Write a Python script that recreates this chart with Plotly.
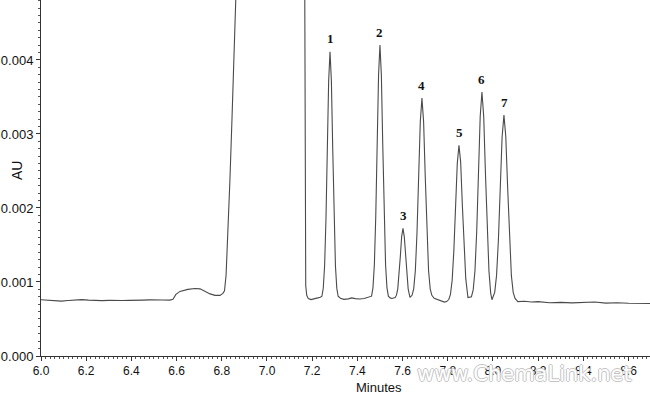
import plotly.graph_objects as go

# ---- chromatogram trace (minutes, AU) ----
time_min = [
    6.000, 6.030, 6.060, 6.090, 6.120, 6.150, 6.180, 6.210, 6.240, 6.270,
    6.300, 6.330, 6.360, 6.390, 6.420, 6.450, 6.480, 6.510, 6.540, 6.570,
    6.584, 6.597, 6.615, 6.650, 6.681, 6.704, 6.726, 6.748, 6.770, 6.792,
    6.805, 6.812, 6.819, 6.827, 6.836, 6.845, 6.854, 6.863, 6.869, 7.020,
    7.1665, 7.1675, 7.1680, 7.1715, 7.1760, 7.1830, 7.1950, 7.2100, 7.2250, 7.2360,
    # peak 1
    7.2431, 7.2491, 7.2551, 7.2611, 7.2671, 7.2730, 7.2790, 7.2850, 7.2910, 7.2969,
    7.3029, 7.3089, 7.3149,
    7.3250, 7.3400, 7.3600, 7.3750, 7.3900, 7.4100, 7.4300, 7.4500,
    # peak 2
    7.4628, 7.4690, 7.4752, 7.4814, 7.4876, 7.4938, 7.5000, 7.5062, 7.5124, 7.5186,
    7.5248, 7.5310, 7.5372,
    7.5450, 7.5530,
    # peak 3
    7.5673, 7.5730, 7.5788, 7.5845, 7.5903, 7.5960, 7.6018, 7.6076, 7.6133, 7.6191,
    7.6248, 7.6327,
    # peak 4
    7.6420, 7.6493, 7.6566, 7.6639, 7.6712, 7.6785, 7.6858, 7.6931, 7.7004, 7.7077,
    7.7150, 7.7223, 7.7296,
    7.7400, 7.7550, 7.7700, 7.7850, 7.7950,
    # peak 5
    7.8045, 7.8120, 7.8195, 7.8270, 7.8346, 7.8421, 7.8496, 7.8571, 7.8646, 7.8722,
    7.8797, 7.8894,
    # peak 6
    7.9048, 7.9126, 7.9203, 7.9281, 7.9358, 7.9436, 7.9513, 7.9591, 7.9668, 7.9746,
    7.9823, 7.9900, 7.9956,
    # peak 7
    8.0078, 8.0160, 8.0241, 8.0323, 8.0405, 8.0487, 8.0569, 8.0651, 8.0733, 8.0815,
    8.0896, 8.0978,
    8.110, 8.140, 8.170, 8.200, 8.250, 8.300, 8.350, 8.400, 8.450, 8.500,
    8.550, 8.600, 8.650, 8.700,
]

absorbance = [
    0.000760, 0.000755, 0.000745, 0.000742, 0.000750, 0.000758, 0.000762, 0.000755, 0.000750, 0.000748,
    0.000752, 0.000756, 0.000750, 0.000752, 0.000758, 0.000755, 0.000758, 0.000752, 0.000756, 0.000755,
    0.000765, 0.000832, 0.000873, 0.000900, 0.000913, 0.000907, 0.000873, 0.000839, 0.000819, 0.000819,
    0.000846, 0.000880, 0.001090, 0.001630, 0.002370, 0.003190, 0.004000, 0.004810, 0.005600, 0.020000,
    0.005600, 0.004800, 0.001900, 0.000950, 0.000820, 0.000775, 0.000762, 0.000770, 0.000785, 0.000795,
    # peak 1
    0.000807, 0.000917, 0.001222, 0.001854, 0.002796, 0.003718, 0.004110, 0.003718, 0.002796, 0.001854,
    0.001222, 0.000917, 0.000807,
    0.000780, 0.000765, 0.000772, 0.000785, 0.000775, 0.000770, 0.000776, 0.000790,
    # peak 2
    0.000808, 0.000921, 0.001234, 0.001884, 0.002850, 0.003797, 0.004200, 0.003797, 0.002850, 0.001884,
    0.001234, 0.000921, 0.000808,
    0.000785, 0.000778,
    # peak 3
    0.000790, 0.000822, 0.000908, 0.001087, 0.001353, 0.001614, 0.001725, 0.001614, 0.001353, 0.001087,
    0.000908, 0.000792,
    # peak 4
    0.000820, 0.000908, 0.001155, 0.001665, 0.002424, 0.003167, 0.003484, 0.003167, 0.002424, 0.001665,
    0.001155, 0.000908, 0.000820,
    0.000780, 0.000760, 0.000742, 0.000728, 0.000735,
    # peak 5
    0.000763, 0.000833, 0.001025, 0.001424, 0.002018, 0.002600, 0.002848, 0.002620, 0.002038, 0.001444,
    0.001045, 0.000790,
    # peak 6
    0.000801, 0.000893, 0.001148, 0.001678, 0.002466, 0.003237, 0.003566, 0.003237, 0.002466, 0.001678,
    0.001148, 0.000850, 0.000760,
    # peak 7
    0.000860, 0.001089, 0.001563, 0.002269, 0.002960, 0.003254, 0.002960, 0.002269, 0.001563, 0.001089,
    0.000860, 0.000778,
    0.000735, 0.000740, 0.000730, 0.000735, 0.000720, 0.000725, 0.000718, 0.000722, 0.000730, 0.000715,
    0.000720, 0.000712, 0.000715, 0.000710,
]

# ---- peak labels ----
peak_labels = ["1", "2", "3", "4", "5", "6", "7"]
peak_times = [7.279, 7.500, 7.602, 7.686, 7.850, 7.951, 8.049]
peak_heights = [0.004110, 0.004200, 0.001725, 0.003484, 0.002848, 0.003566, 0.003254]

# ---- axis ticks ----
x_ticks = [6.0, 6.2, 6.4, 6.6, 6.8, 7.0, 7.2, 7.4, 7.6, 7.8, 8.0, 8.2, 8.4, 8.6]
x_tick_labels = ["6.0", "6.2", "6.4", "6.6", "6.8", "7.0", "7.2", "7.4", "7.6", "7.8",
                 "8.0", "8.2", "8.4", "8.6"]
y_ticks = [0.000, 0.001, 0.002, 0.003, 0.004]
y_tick_labels = ["0.000", "0.001", "0.002", "0.003", "0.004"]

fig = go.Figure()
fig.add_trace(go.Scatter(
    x=time_min, y=absorbance, mode="lines",
    line=dict(color="#4a4a4a", width=1.1),
    hoverinfo="skip", showlegend=False,
))

annotations = []
for lbl, t, h in zip(peak_labels, peak_times, peak_heights):
    annotations.append(dict(
        x=t, y=h, xref="x", yref="y", text="<b>%s</b>" % lbl, showarrow=False,
        yanchor="middle", xanchor="center", yshift=13,
        font=dict(family="Liberation Serif, Times New Roman, serif", size=13, color="#111111"),
    ))

# axis titles
annotations.append(dict(
    x=-24 / 609, y=(356 - 171) / 356, xref="paper", yref="paper", text="AU",
    showarrow=False, textangle=-90, xanchor="center", yanchor="middle",
    font=dict(family="Liberation Sans, Arial, sans-serif", size=14, color="#111111"),
))
# watermark (drawn before the axis title so the title sits on top)
annotations.append(dict(
    x=(524 - 41) / 609, y=-18 / 356, xref="paper", yref="paper", text="www.ChemaLink.net",
    showarrow=False, xanchor="center", yanchor="middle",
    font=dict(family="DejaVu Sans, Verdana, sans-serif", size=21, color="#ffffff",
              shadow="1px 0 0 #c4c4c4, -1px 0 0 #c4c4c4, 0 1px 0 #c4c4c4, 0 -1px 0 #c4c4c4"),
))
annotations.append(dict(
    x=(379 - 41) / 609, y=-31 / 356, xref="paper", yref="paper", text="Minutes",
    showarrow=False, xanchor="center", yanchor="middle",
    font=dict(family="Liberation Sans, Arial, sans-serif", size=13, color="#111111"),
))

axis_font = dict(family="Liberation Sans, Arial, sans-serif", size=12, color="#111111")

fig.update_layout(
    width=650, height=396,
    margin=dict(l=41, r=0, t=0, b=40, autoexpand=False),
    paper_bgcolor="white", plot_bgcolor="white",
    annotations=annotations,
    xaxis=dict(
        range=[6.0, 8.695], tickmode="array", tickvals=x_ticks, ticktext=x_tick_labels,
        automargin=False,
        showline=True, linecolor="#333333", linewidth=1, mirror=False,
        ticks="outside", ticklen=4, tickcolor="#333333", tickfont=axis_font,
        showgrid=False, zeroline=False,
        minor=dict(ticks="outside", ticklen=2, dtick=0.02, tick0=6.0, tickcolor="#555555", showgrid=False),
    ),
    yaxis=dict(
        range=[0, 0.00481], tickmode="array", tickvals=y_ticks, ticktext=y_tick_labels,
        automargin=False,
        showline=True, linecolor="#333333", linewidth=1,
        ticks="outside", ticklen=4, tickcolor="#333333",
        tickfont=dict(family="Liberation Sans, Arial, sans-serif", size=13, color="#111111"),
        showgrid=False, zeroline=False,
        minor=dict(ticks="outside", ticklen=2, dtick=0.0001, tick0=0, tickcolor="#555555", showgrid=False),
    ),
)

fig.write_html(
    "out.html",
    config={"displayModeBar": False, "staticPlot": True},
    post_script="document.body.style.margin='0';document.body.style.overflow='hidden';",
)
